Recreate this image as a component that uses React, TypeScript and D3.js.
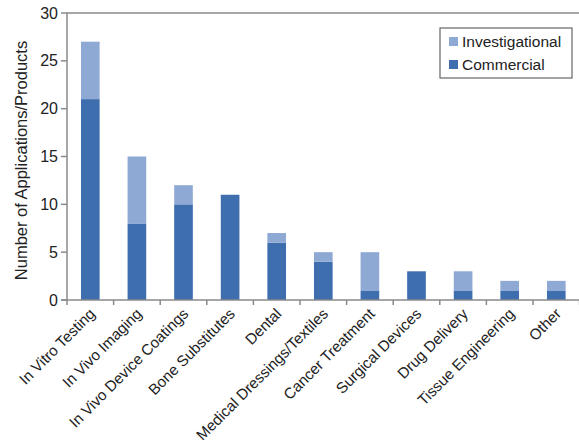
import React from "react";
import * as d3 from "d3";

const categories = [
  "In Vitro Testing",
  "In Vivo Imaging",
  "In Vivo Device Coatings",
  "Bone Substitutes",
  "Dental",
  "Medical Dressings/Textiles",
  "Cancer Treatment",
  "Surgical Devices",
  "Drug Delivery",
  "Tissue Engineering",
  "Other",
];
const commercial = [21, 8, 10, 11, 6, 4, 1, 3, 1, 1, 1];
const investigational = [6, 7, 2, 0, 1, 1, 4, 0, 2, 1, 1];
const yTicks = [0, 5, 10, 15, 20, 25, 30];
const seriesNames = ["Investigational", "Commercial"];

const W = 579;
const H = 448;
const M = { left: 67, top: 13, right: 0, bottom: 148 };
const COL_COM = "#3f6eaf";
const COL_INV = "#8fa9d5";
const FONT = "'Liberation Sans', Arial, sans-serif";

export default function App() {
  const x = d3
    .scaleBand()
    .domain(categories)
    .range([M.left, M.left + 11 * 46.6])
    .paddingInner(0.6)
    .paddingOuter(0.3);
  const y = d3.scaleLinear().domain([0, 30]).range([H - M.bottom, M.top]);
  const step = x.step();
  const start = M.left;
  const bottom = y(0);

  return (
    <svg
      width={W}
      height={H}
      style={{ position: "absolute", left: 0, top: 0, background: "#fff" }}
      fontFamily={FONT}
    >
      {/* bars */}
      {categories.map((c, i) => {
        const bx = x(c)!;
        const bw = x.bandwidth();
        const com = commercial[i];
        const inv = investigational[i];
        return (
          <g key={c}>
            <rect x={bx} y={y(com)} width={bw} height={bottom - y(com)} fill={COL_COM} />
            {inv > 0 && (
              <rect
                x={bx}
                y={y(com + inv)}
                width={bw}
                height={y(com) - y(com + inv)}
                fill={COL_INV}
              />
            )}
          </g>
        );
      })}
      {/* frame */}
      <line x1={M.left} x2={W} y1={M.top} y2={M.top} stroke="#8a8a8a" strokeWidth={1.5} />
      <line x1={M.left} x2={M.left} y1={M.top} y2={bottom} stroke="#8a8a8a" strokeWidth={1.5} />
      <line x1={M.left - 6} x2={W} y1={bottom} y2={bottom} stroke="#8a8a8a" strokeWidth={1.5} />
      {/* y ticks */}
      {yTicks.map((t) => (
        <g key={t}>
          <line x1={M.left - 6} x2={M.left} y1={y(t)} y2={y(t)} stroke="#8a8a8a" strokeWidth={1.5} />
          <text
            x={M.left - 9}
            y={y(t)}
            dy="0.35em"
            textAnchor="end"
            fontSize={16}
            fill="#222"
          >
            {t}
          </text>
        </g>
      ))}
      {/* x ticks */}
      {d3.range(12).map((i) => (
        <line
          key={i}
          x1={start + i * step}
          x2={start + i * step}
          y1={bottom}
          y2={bottom + 5}
          stroke="#8a8a8a"
          strokeWidth={1.5}
        />
      ))}
      {/* x labels */}
      {categories.map((c) => {
        const cx = x(c)! + x.bandwidth() / 2 + 2;
        const cy = bottom + 11;
        return (
          <text
            key={c}
            transform={`translate(${cx},${cy}) rotate(-45)`}
            textAnchor="end"
            fontSize={15.2}
            fill="#222"
            dy="0.35em"
          >
            {c}
          </text>
        );
      })}
      {/* y title */}
      <text
        transform={`translate(27,${(M.top + bottom) / 2 + 4}) rotate(-90)`}
        textAnchor="middle"
        fontSize={16.5}
        fill="#222"
      >
        Number of Applications/Products
      </text>
      {/* legend */}
      <rect x={440} y={28} width={132} height={50} fill="#fff" stroke="#666" strokeWidth={1.2} />
      {seriesNames.map((s, i) => (
        <g key={s}>
          <rect x={449} y={37 + i * 23} width={9} height={9} fill={i === 0 ? COL_INV : COL_COM} />
          <text x={462} y={41.5 + i * 23} dy="0.35em" fontSize={15.5} fill="#222">
            {s}
          </text>
        </g>
      ))}
    </svg>
  );
}
